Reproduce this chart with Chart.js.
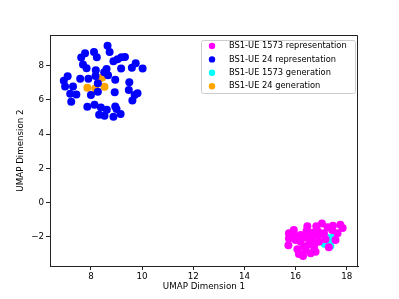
<!DOCTYPE html>
<html>
<head>
<meta charset="utf-8">
<script src="https://cdn.jsdelivr.net/npm/chart.js@4"></script>
<style>
  html, body { margin: 0; padding: 0; background: #fff; }
  #wrap { width: 399px; height: 299px; }
</style>
</head>
<body>
<div id="wrap"><canvas id="umapChart" width="399" height="299"></canvas></div>
<script>
// UMAP coordinates
const ue1573RepX = [17.03, 17.25, 17.46, 17.75, 17.84, 17.64, 17.43, 16.81, 16.46, 16.43, 16.65, 16.88, 17.11,
    15.93, 15.74, 15.99, 16.20, 16.43, 16.63, 16.88, 17.56, 15.74, 16.00, 15.72, 16.07, 16.33, 16.52, 16.72,
    17.30, 16.13, 16.29, 16.59, 16.78, 16.39, 16.91, 16.65, 17.17, 16.20];
const ue1573RepY = [-1.22, -1.45, -1.36, -1.30, -1.49, -1.80, -1.61, -1.38, -1.38, -1.65, -1.77, -1.69, -1.80,
    -1.61, -1.80, -1.96, -1.90, -2.04, -2.10, -1.96, -2.19, -2.10, -2.19, -2.50, -2.73, -2.58, -2.44, -2.58,
    -2.62, -3.01, -3.12, -2.97, -2.87, -2.77, -2.29, -2.35, -2.15, -2.29];

const ue24RepX = [8.65, 8.73, 8.12, 7.77, 7.62, 8.23, 8.88, 9.04, 9.19, 9.33, 7.69, 7.83, 8.19, 8.61, 8.52,
    9.18, 9.75, 9.60, 10.02, 7.09, 6.94, 6.99, 7.58, 7.90, 8.18, 8.67, 8.95, 8.27, 7.30, 7.19, 7.43, 7.23,
    8.00, 8.27, 8.93, 9.50, 9.48, 9.71, 9.82, 9.62, 7.86, 8.14, 8.39, 8.62, 8.95, 9.00, 8.32, 8.53, 8.88, 9.16];
const ue24RepY = [9.16, 8.80, 8.80, 8.72, 8.47, 8.49, 8.26, 8.37, 8.49, 8.51, 8.06, 7.85, 7.73, 7.81, 7.61,
    7.83, 8.14, 7.87, 7.83, 7.38, 7.11, 6.78, 7.24, 7.24, 7.40, 7.44, 7.17, 6.97, 6.78, 6.35, 6.31, 5.89,
    6.29, 6.47, 6.45, 7.03, 6.57, 6.28, 6.39, 5.96, 5.59, 5.71, 5.55, 5.42, 5.61, 5.46, 5.13, 5.07, 5.01, 5.17];

const ue1573GenX = [17.20, 17.43, 17.14, 17.33, 17.25, 17.36];
const ue1573GenY = [-2.04, -2.04, -2.43, -2.35, -2.19, -2.54];

const ue24GenX = [7.86, 8.17, 8.53, 8.32, 8.44];
const ue24GenY = [6.70, 6.66, 6.76, 7.21, 7.30];

const xTicks = [8, 10, 12, 14, 16, 18];
const yTicks = [-2, 0, 2, 4, 6, 8];

const seriesLabels = ['BS1-UE 1573 representation', 'BS1-UE 24 representation',
    'BS1-UE 1573 generation', 'BS1-UE 24 generation'];
const seriesColors = ['#ff00ff', '#0000ff', '#00ffff', '#ffa500'];

const FONT = 'DejaVu Sans';

function toPoints(xs, ys) {
    return xs.map((x, i) => ({ x: x, y: ys[i] }));
}

// draws the top/right spines and the matplotlib-style legend box
const framePlugin = {
    id: 'frame',
    afterDraw(chart) {
        const { ctx, chartArea: a } = chart;
        ctx.save();
        ctx.strokeStyle = '#222';
        ctx.lineWidth = 1;
        ctx.beginPath();
        ctx.moveTo(a.left, a.top + 0.5);
        ctx.lineTo(a.right - 0.5, a.top + 0.5);
        ctx.lineTo(a.right - 0.5, a.bottom);
        ctx.stroke();

        const bx = 201, by = 40, bw = 154, bh = 53;
        ctx.fillStyle = 'rgba(255,255,255,0.8)';
        ctx.strokeStyle = '#cccccc';
        ctx.beginPath();
        ctx.roundRect(bx + 0.5, by + 0.5, bw, bh, 2);
        ctx.fill();
        ctx.stroke();

        ctx.font = '8.3px "' + FONT + '"';
        ctx.textBaseline = 'middle';
        seriesLabels.forEach((label, i) => {
            const y = by + 6 + i * 13.4;
            ctx.fillStyle = seriesColors[i];
            ctx.beginPath();
            ctx.arc(212, y, 3.2, 0, Math.PI * 2);
            ctx.fill();
            ctx.fillStyle = '#000';
            ctx.fillText(label, 229, y);
        });
        ctx.restore();
    }
};

const datasets = [
    toPoints(ue1573RepX, ue1573RepY),
    toPoints(ue24RepX, ue24RepY),
    toPoints(ue1573GenX, ue1573GenY),
    toPoints(ue24GenX, ue24GenY)
].map((data, i) => ({
    label: seriesLabels[i],
    data: data,
    backgroundColor: seriesColors[i],
    borderWidth: 0,
    pointRadius: 4,
    pointHoverRadius: 4
}));

new Chart(document.getElementById('umapChart'), {
    type: 'scatter',
    data: { datasets: datasets },
    options: {
        responsive: false,
        animation: false,
        layout: { padding: { top: 35, right: 41, left: 16, bottom: 7 } },
        plugins: {
            legend: { display: false },
            tooltip: { enabled: false }
        },
        scales: {
            x: {
                type: 'linear',
                min: 6.4,
                max: 18.44,
                afterBuildTicks: (scale) => { scale.ticks = xTicks.map(v => ({ value: v })); },
                afterFit: (scale) => { scale.height = 26; },
                grid: { drawOnChartArea: false, drawTicks: true, tickLength: 4, color: '#222' },
                border: { color: '#222' },
                ticks: { color: '#000', font: { family: FONT, size: 8.7 }, padding: 2, maxRotation: 0 },
                title: { display: true, text: 'UMAP Dimension 1', color: '#000', font: { family: FONT, size: 8.7 }, padding: { top: 1, bottom: 0 } }
            },
            y: {
                type: 'linear',
                min: -3.71,
                max: 9.79,
                afterBuildTicks: (scale) => { scale.ticks = yTicks.map(v => ({ value: v })); },
                afterFit: (scale) => { scale.width = 34; },
                grid: { drawOnChartArea: false, drawTicks: true, tickLength: 4, color: '#222' },
                border: { color: '#222' },
                ticks: { color: '#000', font: { family: FONT, size: 8.7 }, padding: 2, callback: (v) => v < 0 ? '\u2212' + Math.abs(v) : String(v) },
                title: { display: true, text: 'UMAP Dimension 2', color: '#000', font: { family: FONT, size: 8.7 }, padding: { top: 0, bottom: 4 } }
            }
        }
    },
    plugins: [framePlugin]
});
</script>
</body>
</html>
